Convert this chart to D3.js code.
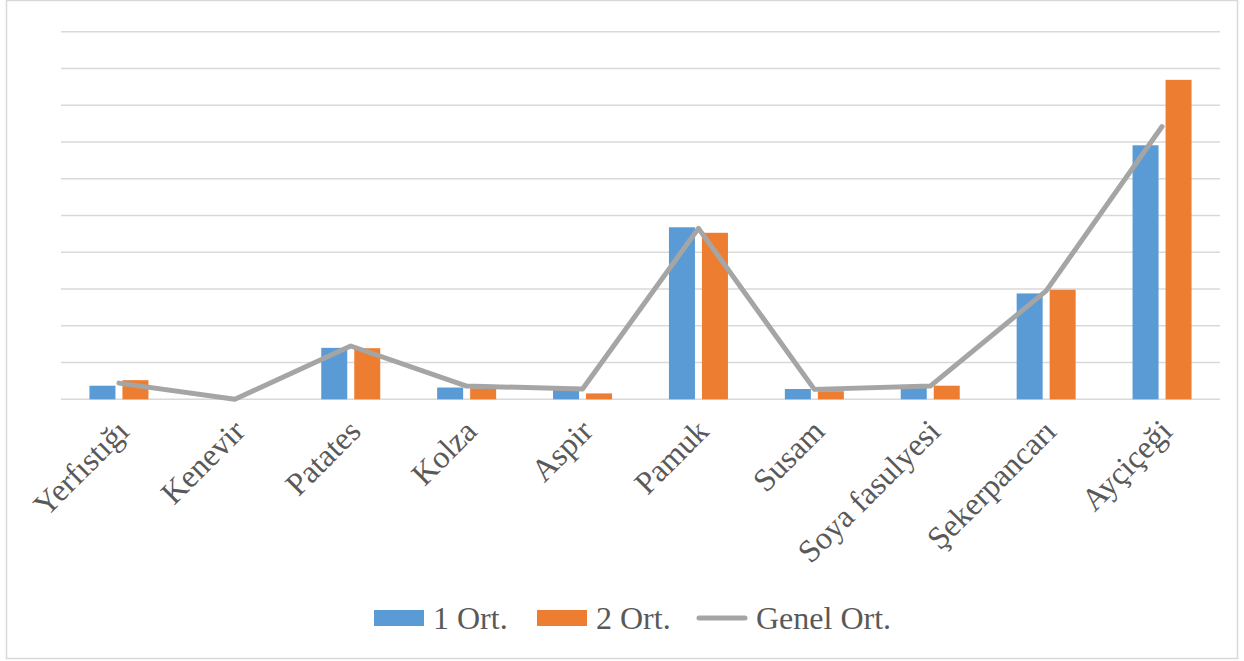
<!DOCTYPE html>
<html>
<head>
<meta charset="utf-8">
<script src="https://cdn.jsdelivr.net/npm/d3@7"></script>
<style>
  html, body { margin: 0; padding: 0; background: #fff; }
  svg { display: block; }
</style>
</head>
<body>
<svg id="chart" width="1244" height="661"></svg>
<script>
// Crop categories and averages
const categories = ["Yerfıstığı", "Kenevir", "Patates", "Kolza", "Aspir", "Pamuk", "Susam", "Soya fasulyesi", "Şekerpancarı", "Ayçiçeği"];
const ort1 = [0.37, 0, 1.40, 0.32, 0.25, 4.68, 0.28, 0.33, 2.88, 6.91];
const ort2 = [0.52, 0, 1.39, 0.30, 0.16, 4.53, 0.22, 0.37, 2.98, 8.69];
const genelOrt = [0.44, 0, 1.45, 0.36, 0.28, 4.65, 0.27, 0.36, 2.95, 7.42];
const seriesNames = ["1 Ort.", "2 Ort.", "Genel Ort."];
const yTicks = [0, 1, 2, 3, 4, 5, 6, 7, 8, 9, 10];

const colors = { "1 Ort.": "#5b9bd5", "2 Ort.": "#ed7d31", "Genel Ort.": "#a5a5a5" };
const font = "'Liberation Serif', 'Times New Roman', serif";

const svg = d3.select("#chart");

// chart area border
svg.append("rect")
  .attr("x", 6.5).attr("y", 0.5)
  .attr("width", 1231).attr("height", 658)
  .attr("fill", "#fff")
  .attr("stroke", "#d9d9d9")
  .attr("stroke-width", 1.5);

const plot = { left: 61, right: 1220, top: 31.7, bottom: 399.3 };

const x = d3.scaleBand().domain(categories).range([plot.left, plot.right]).padding(0);
const y = d3.scaleLinear().domain([0, 10]).range([plot.bottom, plot.top]);
const xSeries = d3.scaleBand().domain(["1 Ort.", "2 Ort."])
  .range([-29.5, 29.5]).paddingInner(7 / 33).paddingOuter(0);

// horizontal gridlines
svg.append("g")
  .selectAll("line")
  .data(yTicks)
  .join("line")
  .attr("x1", plot.left).attr("x2", plot.right)
  .attr("y1", d => y(d)).attr("y2", d => y(d))
  .attr("stroke", "#d9d9d9")
  .attr("stroke-width", 1.5);

// clustered bars
const barData = [];
categories.forEach((c, i) => {
  barData.push({ cat: c, series: "1 Ort.", value: ort1[i] });
  barData.push({ cat: c, series: "2 Ort.", value: ort2[i] });
});

svg.append("g")
  .selectAll("rect")
  .data(barData.filter(d => d.value > 0))
  .join("rect")
  .attr("x", d => x(d.cat) + x.bandwidth() / 2 + xSeries(d.series))
  .attr("width", xSeries.bandwidth())
  .attr("y", d => y(d.value))
  .attr("height", d => y(0) - y(d.value))
  .attr("fill", d => colors[d.series]);

// overall average line
const line = d3.line()
  .x((d, i) => x(categories[i]) + x.bandwidth() / 2)
  .y(d => y(d));

svg.append("path")
  .datum(genelOrt)
  .attr("d", line)
  .attr("fill", "none")
  .attr("stroke", colors["Genel Ort."])
  .attr("stroke-width", 5)
  .attr("stroke-linejoin", "round")
  .attr("stroke-linecap", "round");

// rotated category labels
svg.append("g")
  .selectAll("text")
  .data(categories)
  .join("text")
  .attr("transform", d => `translate(${x(d) + x.bandwidth() / 2 + 4},${plot.bottom + 26}) rotate(-45)`)
  .attr("text-anchor", "end")
  .attr("dy", "0.35em")
  .attr("font-family", font)
  .attr("font-size", 32)
  .attr("fill", "#595959")
  .text(d => d);

// legend
const legend = svg.append("g").attr("font-family", font).attr("font-size", 32).attr("fill", "#595959");
const legendItems = [
  { name: seriesNames[0], x: 374, type: "rect" },
  { name: seriesNames[1], x: 537, type: "rect" },
  { name: seriesNames[2], x: 697, type: "line" }
];
legendItems.forEach(it => {
  if (it.type === "rect") {
    legend.append("rect")
      .attr("x", it.x).attr("y", 610)
      .attr("width", 50).attr("height", 16)
      .attr("fill", colors[it.name]);
  } else {
    legend.append("line")
      .attr("x1", it.x + 2).attr("x2", it.x + 48)
      .attr("y1", 618).attr("y2", 618)
      .attr("stroke", colors[it.name])
      .attr("stroke-width", 5)
      .attr("stroke-linecap", "round");
  }
  legend.append("text")
    .attr("x", it.x + 59)
    .attr("y", 629)
    .text(it.name);
});
</script>
</body>
</html>
